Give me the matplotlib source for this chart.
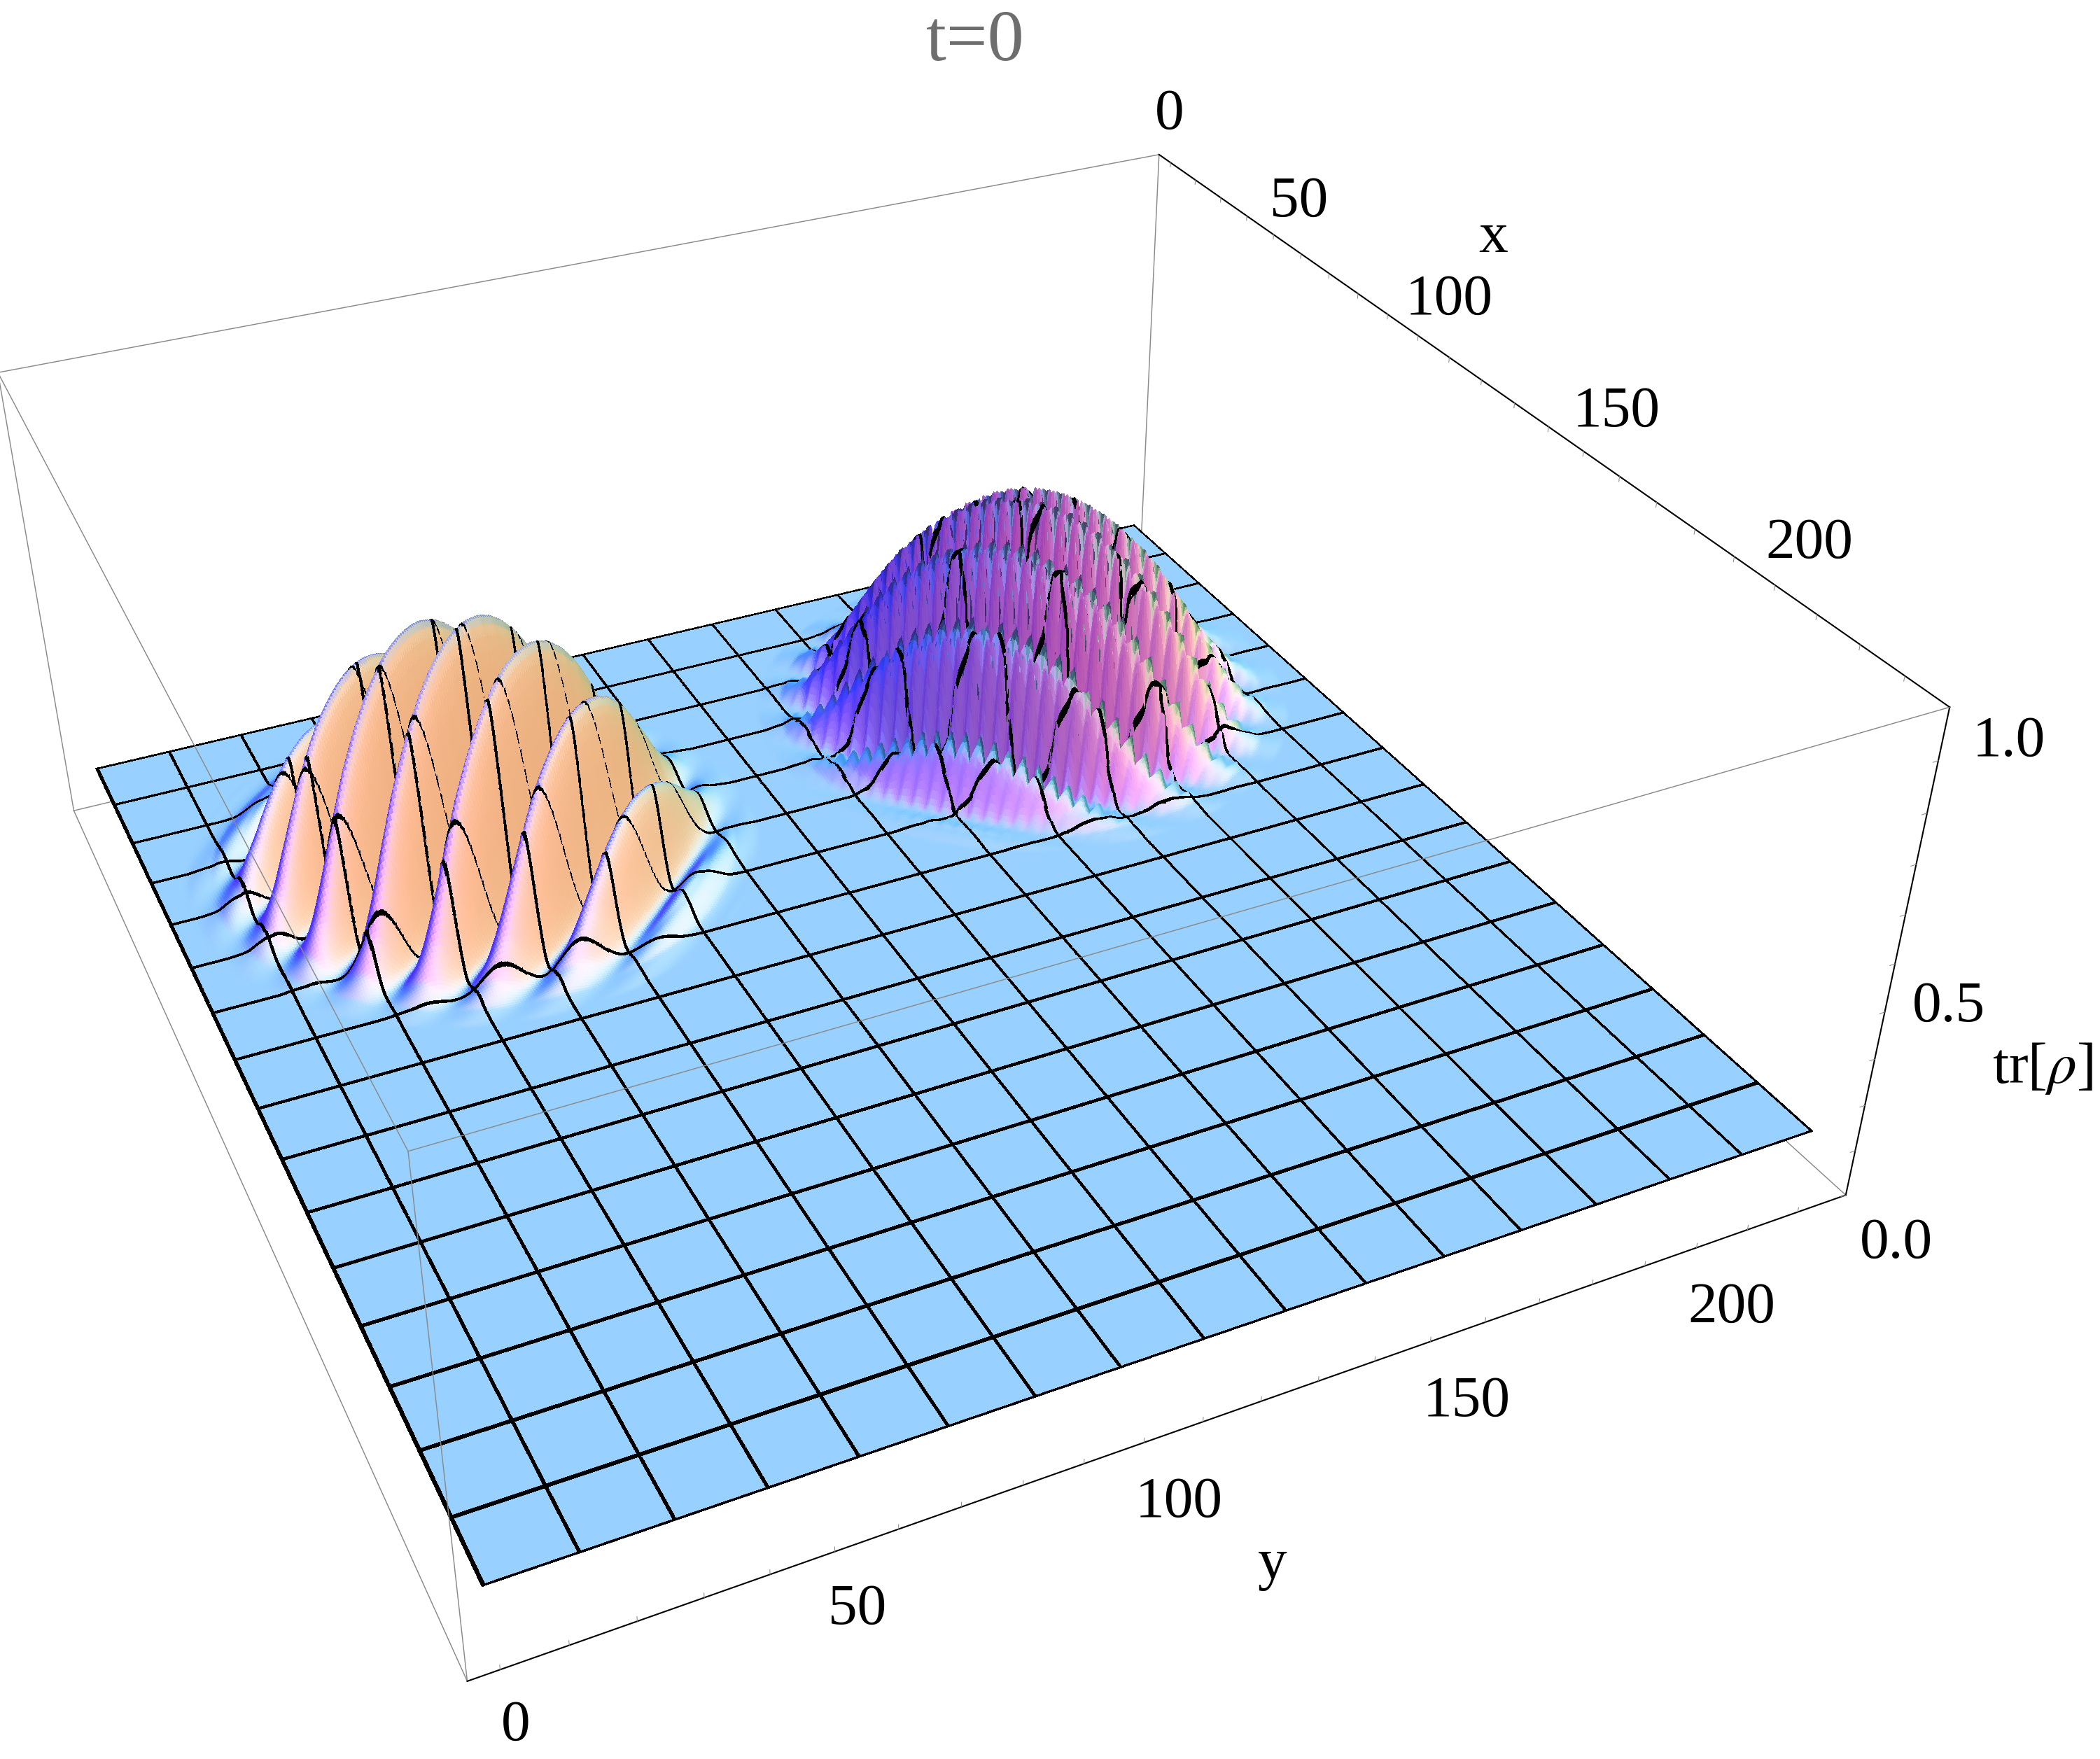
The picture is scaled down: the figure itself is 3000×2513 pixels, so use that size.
import numpy as np
import matplotlib
matplotlib.use('Agg')
import matplotlib.pyplot as plt

W, H = 3000, 2513
plt.rcParams['font.family'] = ['Liberation Serif', 'DejaVu Serif']
plt.rcParams['mathtext.fontset'] = 'stix'

# The surface itself has far too many cells to type,
# so it is built from these estimates: floor level, blob centres, sizes,
# fringe spacing and the height profile of a blob against its radius.
base_level = 0.12
mesh_cells = 16
orange_center = [58, 56]
orange_radius = 43
orange_period = 11.0
orange_phase = 0.0
orange_peak = 0.51
purple_center = [54, 170]
purple_radius = 43
purple_period = 12.5
purple_phase = 0.0
purple_peak = 0.48
env_r = [0, .1, .2, .3, .4, .5, .6, .7, .8, .9, 1.0, 1.1, 1.2]
env_h = [1, .99, .96, .91, .84, .75, .64, .50, .34, .18, .06, .01, 0]

# camera found by fitting the box corners of the picture
elev, azim, roll, focal, bz, rat = 32.9276, -24.8701, 0.2814, 0.2935, 0.3955, 0.9963
sc, tx, ty = 15270.05, 1259.95, 1094.5

fig = plt.figure(figsize=(10, 8.377), dpi=300)
ax = fig.add_subplot(projection='3d', computed_zorder=False)
ax.view_init(elev, azim, roll)
ax.set_proj_type('persp', focal_length=focal)
ax.set_box_aspect((1, rat, bz))
ax.set_position([(tx - 0.095 * sc) / W, (H - (ty + 0.095 * sc)) / H, 0.185 * sc / W, 0.185 * sc / H])
lo, hi = -4.7, 229.7
ax.set_xlim(lo, hi)
ax.set_ylim(lo, hi)
ax.set_zlim(0, 1)
ax.set_axis_off()

# grid: fine over the blobs, with extra lines for the mesh ribbons
mesh = np.linspace(0, 225, mesh_cells + 1)
hx, hy = 0.4, 0.28
bx, by = 0.7, 0.5
xg = np.r_[np.arange(0, 112, .5), np.arange(112, 226, 2.), mesh - hx, mesh + hx, bx, 225 - bx]
yg = np.r_[np.arange(0, 225.5, .5), mesh - hy, mesh + hy, by, 225 - by]
xg = np.unique(xg[(xg >= 0) & (xg <= 225)])
yg = np.unique(yg[(yg >= 0) & (yg <= 225)])
X, Y = np.meshgrid(xg, yg, indexing='ij')

def snap(A, half):
    # points inside a ribbon take the height of the mesh line itself
    near = mesh[np.abs(A[..., None] - mesh).argmin(axis=2)]
    inside = np.abs(A - near) <= half + 1e-9
    return np.where(inside, near, A), inside

def height(A, B, amp):
    dx, dy = A - orange_center[0], B - orange_center[1]
    e_o = orange_peak * np.interp(np.hypot(dx, dy) / orange_radius, env_r, env_h)
    f_o = np.cos(np.pi * ((dx + dy) / np.sqrt(2) + orange_phase) / orange_period) ** 2
    dx, dy = A - purple_center[0], B - purple_center[1]
    e_p = purple_peak * np.interp(np.hypot(dx, dy) / purple_radius, env_r, env_h)
    saw = np.abs((((dx + dy) / 4.0) % 1) * 2 - 1) * 2 - 1
    f_p = np.cos(np.pi * ((dx - dy) / np.sqrt(2) + purple_phase + amp * saw) / purple_period) ** 2
    return base_level + e_o * f_o + e_p * f_p, e_p

Xs, in_x = snap(X, hx)
Ys, in_y = snap(Y, hy)
amp = np.where(in_x | in_y, 0.4, 1.7)
Z = 0.65 * height(Xs, Ys, amp)[0] + 0.35 * height(X, Y, amp)[0]
# shading follows the smooth fringes, only a trace of the crest zigzag
Z_light, env_p = height(X, Y, 0.1)

span = hi - lo
dzdx, dzdy = np.gradient(Z_light, xg, yg)
nx, ny, nz = -dzdx * bz * span, -dzdy * bz * span / rat, np.ones_like(Z)
nn = np.sqrt(nx ** 2 + ny ** 2 + nz ** 2)
nx, ny, nz = nx / nn, ny / nn, nz / nn
ea, aa = np.deg2rad(elev), np.deg2rad(azim)
w = np.array([np.cos(ea) * np.cos(aa), np.cos(ea) * np.sin(aa), np.sin(ea)])
u = np.array([-np.sin(aa), np.cos(aa), 0.])
v = np.cross(w, u)
ambient = np.array([.31, .19, .5])
lights = [((1.2, -.3, 2), (.8, 0, 0)), ((1.5, 1.5, 2), (0, .78, 0)), ((-.5, 1.5, 2), (0, 0, .75))]
rgb = np.ones(Z.shape + (3,)) * ambient
for d, col in lights:
    d = np.array(d, float)
    d /= np.linalg.norm(d)
    l = d[0] * u + d[1] * v + d[2] * w
    rgb = rgb + np.clip(nx * l[0] + ny * l[1] + nz * l[2], 0, None)[..., None] * np.array(col)
# tint of the purple blob: darker inside, bluer on its low y side, paler on the other
mask = np.clip(env_p / purple_peak * 2.5, 0, 1)
side = np.clip((Y - purple_center[1]) / purple_radius, -1, 1)
rgb = rgb * (1 - 0.18 * mask)[..., None]
rgb[..., 0] *= 1 - 0.45 * mask * np.clip(-side, 0, 1)
rgb[..., 0] += 0.15 * mask * np.clip(side, 0, 1)
rgb[..., 1] += 0.18 * mask * np.clip(side, 0, 1)
rgb[..., 2] += 0.15 * mask * np.clip(-side, 0, 1)
rgb = np.clip(rgb, 0, 1)
face = 0.25 * (rgb[:-1, :-1] + rgb[1:, :-1] + rgb[:-1, 1:] + rgb[1:, 1:])
xm = 0.5 * (xg[:-1] + xg[1:])
ym = 0.5 * (yg[:-1] + yg[1:])
rowx = (np.min(np.abs(xm[:, None] - mesh), axis=1) < hx) | (xm < bx) | (xm > 225 - bx)
rowy = (np.min(np.abs(ym[:, None] - mesh), axis=1) < hy) | (ym < by) | (ym > 225 - by)
face[rowx, :] = 0
face[:, rowy] = 0
ax.plot_surface(X, Y, Z, facecolors=face, rstride=1, cstride=1, shade=False,
                linewidth=0, antialiased=False, zorder=2)

# the box
gray, black = '#8a8a8a', 'black'
def seg(a, b, col, z, lw=0.35):
    ax.plot([a[0], b[0]], [a[1], b[1]], [a[2], b[2]], color=col, lw=lw, zorder=z, clip_on=False)
c = lambda i, j, k: ((lo, hi)[i], (lo, hi)[j], k)
for a_, b_ in [(c(0, 0, 0), c(0, 1, 0)), (c(0, 1, 0), c(1, 1, 0)), (c(0, 0, 0), c(1, 0, 0)),
               (c(0, 1, 0), c(0, 1, 1)), (c(0, 0, 0), c(0, 0, 1))]:
    seg(a_, b_, gray, 1)
for a_, b_ in [(c(0, 0, 1), c(1, 0, 1)), (c(1, 0, 1), c(1, 1, 1)), (c(1, 0, 1), c(1, 0, 0)), (c(0, 0, 1), c(0, 1, 1))]:
    seg(a_, b_, gray, 3)
for a_, b_ in [(c(0, 1, 1), c(1, 1, 1)), (c(1, 1, 1), c(1, 1, 0)), (c(1, 1, 0), c(1, 0, 0))]:
    seg(a_, b_, black, 3, 0.5)

# small ticks every 10 units on the black edges
for t in np.arange(0, 230, 10):
    seg((t, hi, 1), (t, hi, 0.99), gray, 3, 0.25)
    seg((hi, t, 0), (hi, t, 0.01), gray, 3, 0.25)
for t in np.arange(0, 1.05, .1):
    seg((hi, hi, t), (hi, hi - 1.0, t), gray, 3, 0.25)

labels = [('t=0', 728, 32, 25, '#6e6e6e'), ('0', 873, 86, 20, 'k'), ('50', 970, 151, 20, 'k'), ('x', 1115, 178, 20, 'k'),
          ('100', 1082, 224, 20, 'k'), ('150', 1207, 308, 20, 'k'), ('200', 1351, 406, 20, 'k'), ('1.0', 1500, 554, 20, 'k'),
          ('0.5', 1455, 752, 20, 'k'), (r'tr[$\rho$]', 1525, 798, 20, 'k'), ('0.0', 1416, 929, 20, 'k'), ('200', 1293, 977, 20, 'k'),
          ('150', 1095, 1047, 20, 'k'), ('100', 880, 1122, 20, 'k'), ('y', 950, 1168, 20, 'k'), ('50', 640, 1202, 20, 'k'),
          ('0', 385, 1289, 20, 'k')]
for txt, lx, ly, fs, col in labels:
    fig.text(lx * 1.9133 / W, 1 - ly * 1.9133 / H, txt, fontsize=fs, color=col, ha='center', va='center')

fig.savefig('out.png')
